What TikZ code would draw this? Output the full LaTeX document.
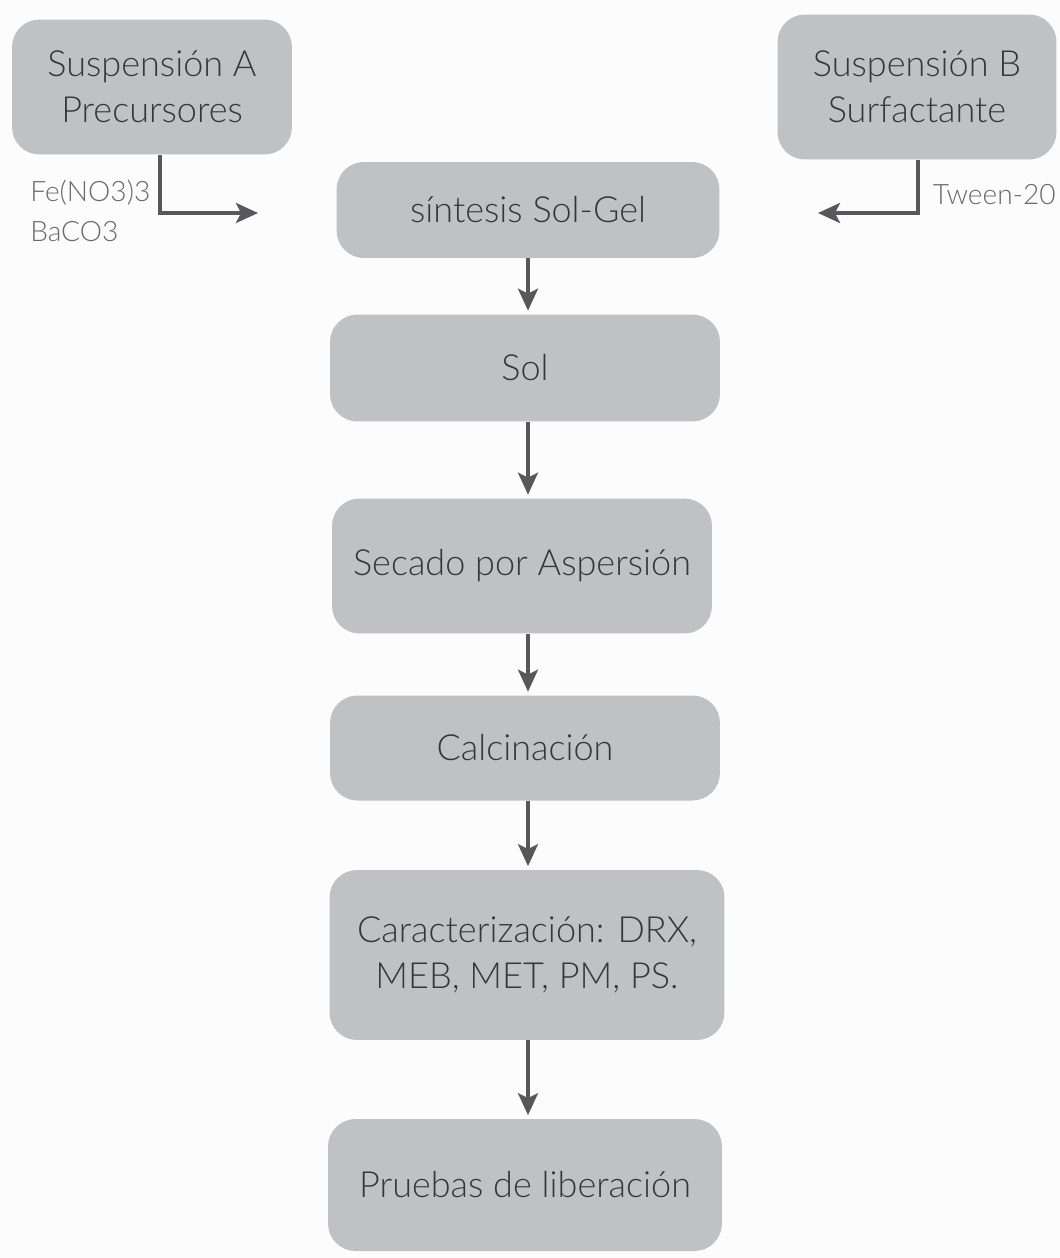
\documentclass[tikz,border=0pt]{standalone}
\usepackage{fontspec}
\setmainfont{Lato}[UprightFont=* Light]
\usetikzlibrary{arrows.meta}

\definecolor{fondo}{RGB}{252,252,252}
\definecolor{cajagris}{RGB}{192,193,195}
\definecolor{textogris}{RGB}{55,55,57}
\definecolor{flechagris}{RGB}{88,88,90}
\definecolor{notagris}{RGB}{105,105,107}

\tikzset{
  caja/.style={fill=cajagris, rounded corners=0.55cm, text=textogris,
    font=\fontsize{20.5}{26}\selectfont, align=center, inner sep=0pt},
  flecha/.style={draw=flechagris, line width=2pt,
    -{Stealth[length=0.44cm, width=0.4cm, inset=0.1cm]}},
  nota/.style={text=notagris, font=\fontsize{16}{22.5}\selectfont, align=left, inner sep=0pt}
}

\begin{document}
\begin{tikzpicture}[x=0.02cm, y=-0.02cm]

    % Fix the page size
    \fill[fondo] (0,0) rectangle (1060,1258);
    \useasboundingbox (0,0) rectangle (1060,1258);

    % Source boxes
    \node[caja, minimum width=5.6cm, minimum height=2.7cm] (susA) at (152,87) {Suspensión A\\Precursores};
    \node[caja, minimum width=5.58cm, minimum height=2.9cm] (susB) at (917,87) {Suspensión B\\Surfactante};

    % Main chain of steps
    \node[caja, minimum width=7.66cm, minimum height=1.92cm] (sintesis) at (528,210) {síntesis Sol-Gel};
    \node[caja, minimum width=7.8cm, minimum height=2.14cm] (sol) at (525,368) {Sol};
    \node[caja, minimum width=7.6cm, minimum height=2.7cm] (secado) at (522,566) {Secado por Aspersión};
    \node[caja, minimum width=7.8cm, minimum height=2.1cm] (calcinacion) at (525,748) {Calcinación};
    \node[caja, minimum width=7.9cm, minimum height=3.4cm] (caract) at (527,955) {Caracterización: DRX,\\MEB, MET, PM, PS.};
    \node[caja, minimum width=7.88cm, minimum height=2.64cm] (pruebas) at (525,1185) {Pruebas de liberación};

    % Free ends of the side arrows
    \coordinate (finA) at (258,213);
    \coordinate (finB) at (818,213);

    % Labels of the side inputs
    \node[nota, anchor=north west] (reactivos) at (30,180) {Fe(NO3)3\\BaCO3};
    \node[nota, anchor=east] (tween) at (1056,195) {Tween-20};

    % Side arrows
    \draw[flecha] (susA.south -| 160,0) |- (finA);
    \draw[flecha] (susB.south -| 918,0) |- (finB);

    % Vertical arrows
    \foreach \a/\b in {sintesis/sol, sol/secado, secado/calcinacion, calcinacion/caract, caract/pruebas} {
        \draw[flecha, shorten >=2pt] (\a.south -| 528,0) -- (\b.north -| 528,0);
    }

\end{tikzpicture}
\end{document}
